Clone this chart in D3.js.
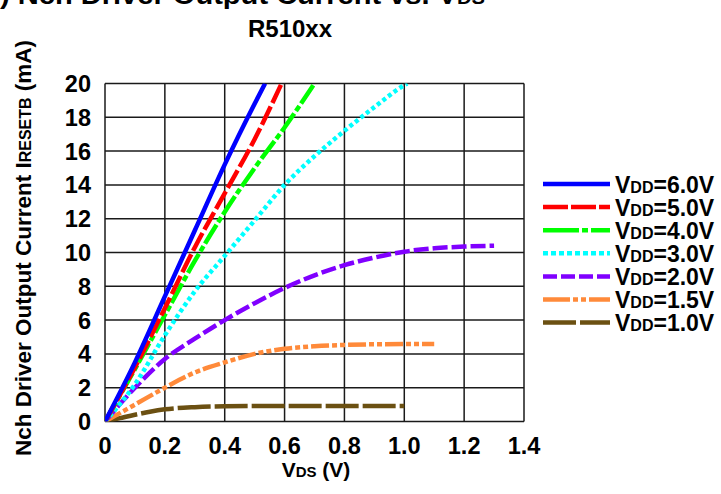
<!doctype html>
<html>
    <head>
        <title>Nch Driver Output Current vs. VDS</title>
        <style>
            body {
                margin: 0;
                overflow: hidden;
                background: #fff;
            }
            text {
                font-family: "Liberation Sans", Arial, sans-serif;
                font-weight: bold;
                fill: #000;
            }
        </style>
    </head>
    <body>
        <script src="https://cdn.jsdelivr.net/npm/d3@7"></script>
        <script>

            // tick labels
            const xTicks = [0, 0.2, 0.4, 0.6, 0.8, 1.0, 1.2, 1.4];
            const xTickLabels = ['0', '0.2', '0.4', '0.6', '0.8', '1.0', '1.2', '1.4'];
            const yTicks = [0, 2, 4, 6, 8, 10, 12, 14, 16, 18, 20];

            // series: [VDS (V), IRESETB (mA)]
            const seriesNames = ['6.0V', '5.0V', '4.0V', '3.0V', '2.0V', '1.5V', '1.0V'];
            const vdd60 = [[0, 0], [0.1, 3.5], [0.2, 7.4], [0.3, 11.3], [0.4, 15.2], [0.5, 18.8], [0.535, 20]];
            const vdd50 = [[0, 0], [0.1, 3.2], [0.2, 6.7], [0.3, 10.3], [0.4, 13.5], [0.5, 16.7], [0.59, 20]];
            const vdd40 = [[0, 0], [0.1, 3.1], [0.2, 6.3], [0.3, 9.5], [0.4, 12.4], [0.5, 15.0], [0.6, 17.4], [0.7, 20]];
            const vdd30 = [[0, 0], [0.1, 2.2], [0.2, 5.1], [0.3, 7.7], [0.4, 9.8], [0.5, 11.9], [0.6, 14.0], [0.7, 15.7], [0.8, 17.2], [0.9, 18.6], [1.0, 19.9], [1.01, 20]];
            const vdd20 = [[0, 0], [0.1, 2.0], [0.2, 3.7], [0.3, 4.9], [0.4, 6.0], [0.5, 7.0], [0.6, 7.9], [0.7, 8.65], [0.8, 9.25], [0.9, 9.7], [1.0, 10.05], [1.1, 10.25], [1.2, 10.35], [1.3, 10.4]];
            const vdd15 = [[0, 0], [0.1, 1.0], [0.2, 2.0], [0.3, 2.9], [0.4, 3.5], [0.5, 4.0], [0.6, 4.3], [0.7, 4.45], [0.8, 4.53], [0.9, 4.57], [1.0, 4.58], [1.1, 4.58]];
            const vdd10 = [[0, 0], [0.05, 0.2], [0.1, 0.4], [0.15, 0.58], [0.2, 0.72], [0.3, 0.85], [0.4, 0.9], [0.6, 0.92], [1.0, 0.92]];

            const seriesData = [vdd60, vdd50, vdd40, vdd30, vdd20, vdd15, vdd10];
            const colors = ['#0000ff', '#ff0000', '#00ff00', '#00ffff', '#8000ff', '#ff8a3a', '#6b5012'];
            const dashes = [null, '20,4', '22,3,6,3', '4,3', '15,4', '18,3,5,3,5,3', '33,4'];
            const legendDashes = [null, '25,3', '36,3,6,3', '5,3', '14,4', '27,3,5,3,5,3', '33,4'];

            const width = 721;
            const height = 494;
            const margin = {left: 105, right: 197, top: 83.5, bottom: 72.5};

            const svg = d3.select('body')
                .append('svg')
                .attr('width', width)
                .attr('height', height);

            const x = d3.scaleLinear().domain([0, 1.4]).range([margin.left, width - margin.right]);
            const y = d3.scaleLinear().domain([0, 20]).range([height - margin.bottom, margin.top]);

            // grid
            svg.append('g')
                .selectAll('line.v')
                .data(xTicks)
                .join('line')
                .attr('x1', d => x(d)).attr('x2', d => x(d))
                .attr('y1', y(0)).attr('y2', y(20))
                .attr('stroke', '#1a1a1a').attr('stroke-width', 1.5);
            svg.append('g')
                .selectAll('line.h')
                .data(yTicks)
                .join('line')
                .attr('x1', x(0)).attr('x2', x(1.4))
                .attr('y1', d => y(d)).attr('y2', d => y(d))
                .attr('stroke', '#1a1a1a').attr('stroke-width', 1.5);

            // tick labels
            svg.append('g')
                .selectAll('text')
                .data(yTicks)
                .join('text')
                .attr('x', x(0) - 14)
                .attr('y', d => y(d))
                .attr('dy', '0.36em')
                .attr('text-anchor', 'end')
                .attr('font-size', 23.5)
                .text(d => d);
            svg.append('g')
                .selectAll('text')
                .data(xTicks)
                .join('text')
                .attr('x', d => x(d))
                .attr('y', y(0) + 32)
                .attr('text-anchor', 'middle')
                .attr('font-size', 23.5)
                .text((d, i) => xTickLabels[i]);

            // curves
            const line = d3.line()
                .x(d => x(d[0]))
                .y(d => y(d[1]))
                .curve(d3.curveMonotoneX);

            svg.append('defs').append('clipPath').attr('id', 'plot')
                .append('rect')
                .attr('x', x(0)).attr('y', y(20))
                .attr('width', x(1.4) - x(0)).attr('height', y(0) - y(20));

            svg.append('g')
                .attr('clip-path', 'url(#plot)')
                .selectAll('path')
                .data(seriesData.slice().reverse())
                .join('path')
                .attr('d', line)
                .attr('fill', 'none')
                .attr('stroke', (d, i) => colors[seriesData.length - 1 - i])
                .attr('stroke-width', 4.5)
                .attr('stroke-dasharray', (d, i) => dashes[seriesData.length - 1 - i]);

            // legend
            const legend = svg.append('g').attr('transform', 'translate(543,184)');
            const rows = legend.selectAll('g')
                .data(seriesNames)
                .join('g')
                .attr('transform', (d, i) => `translate(0,${i * 23.1})`);
            rows.append('line')
                .attr('x1', 0).attr('x2', 67)
                .attr('stroke', (d, i) => colors[i])
                .attr('stroke-width', 4.5)
                .attr('stroke-dasharray', (d, i) => legendDashes[i]);
            const lt = rows.append('text')
                .attr('x', 72)
                .attr('y', 8.5)
                .attr('font-size', 23);
            lt.append('tspan').text('V');
            lt.append('tspan').attr('font-size', 16).text('DD');
            lt.append('tspan').text(d => '=' + d);

            // axis titles
            const xt = svg.append('text')
                .attr('x', 316)
                .attr('y', 477)
                .attr('text-anchor', 'middle')
                .attr('font-size', 21);
            xt.append('tspan').text('V');
            xt.append('tspan').attr('font-size', 15).text('DS');
            xt.append('tspan').text(' (V)');

            const yt = svg.append('text')
                .attr('transform', 'translate(31,248) rotate(-90)')
                .attr('text-anchor', 'middle')
                .attr('font-size', 22.5);
            yt.append('tspan').text('Nch Driver Output Current I');
            yt.append('tspan').attr('font-size', 16).text('RESETB');
            yt.append('tspan').text(' (mA)');

            // titles
            const t1 = svg.append('text')
                .attr('x', 0)
                .attr('y', 4)
                .attr('font-size', 26)
                .attr('textLength', 485)
                .attr('lengthAdjust', 'spacingAndGlyphs');
            t1.append('tspan').text(') Nch Driver Output Current vs. V');
            t1.append('tspan').attr('font-size', 18).text('DS');
            svg.append('text')
                .attr('x', 290)
                .attr('y', 37)
                .attr('text-anchor', 'middle')
                .attr('font-size', 24)
                .text('R510xx');

        </script>
    </body>
</html>
